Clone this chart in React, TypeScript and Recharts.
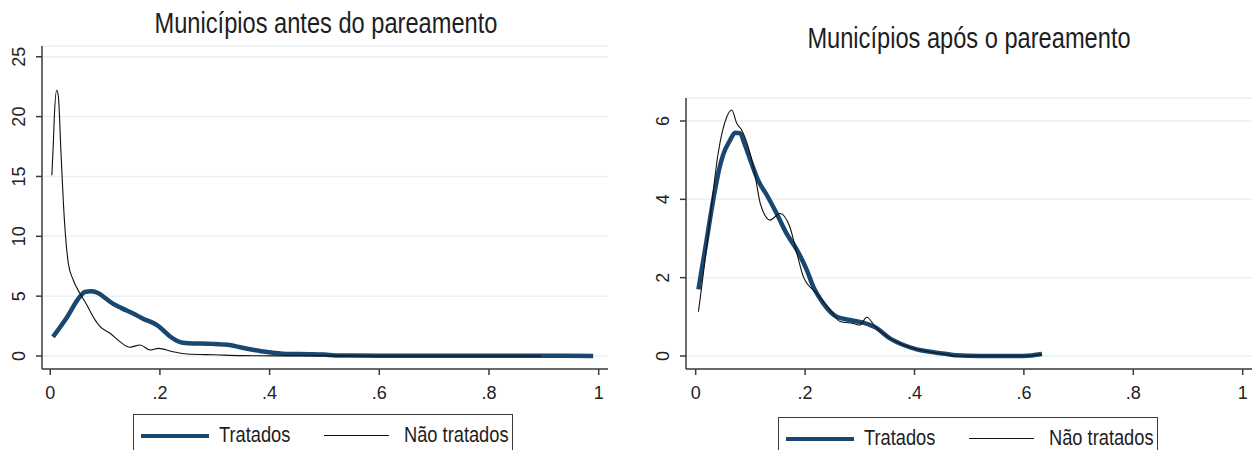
import { LineChart, Line, XAxis, YAxis, CartesianGrid } from 'recharts';

// Kernel densities
const antesTratadosX = [0.005, 0.03, 0.054, 0.063, 0.075, 0.088, 0.1, 0.115, 0.13, 0.151, 0.17, 0.194, 0.205, 0.218, 0.23, 0.242, 0.26, 0.273, 0.3, 0.327, 0.345, 0.364, 0.385, 0.406, 0.437, 0.47, 0.5, 0.52, 0.6, 0.7, 0.8, 0.9, 0.99];
const antesTratadosY = [1.6, 3.2, 4.95, 5.35, 5.4, 5.25, 4.85, 4.35, 4.0, 3.55, 3.1, 2.6, 2.2, 1.65, 1.3, 1.1, 1.05, 1.05, 1.0, 0.92, 0.75, 0.56, 0.4, 0.28, 0.17, 0.15, 0.12, 0.05, 0.03, 0.02, 0.02, 0.02, 0.01];

const antesNaoTratadosX = [0.003, 0.0057, 0.0075, 0.0118, 0.0148, 0.0197, 0.024, 0.028, 0.033, 0.042, 0.054, 0.065, 0.082, 0.091, 0.109, 0.127, 0.145, 0.164, 0.182, 0.197, 0.224, 0.249, 0.3, 0.35, 0.45, 0.6, 0.75, 0.895];
const antesNaoTratadosY = [15.1, 17.8, 20.0, 22.2, 21.7, 16.9, 12.8, 9.97, 7.74, 6.35, 5.24, 4.4, 3.0, 2.45, 1.9, 1.2, 0.73, 0.92, 0.5, 0.64, 0.36, 0.17, 0.1, 0.03, 0.01, 0.005, 0.0, 0.0];

const aposTratadosX = [0.005, 0.02, 0.032, 0.044, 0.05, 0.063, 0.072, 0.081, 0.09, 0.102, 0.114, 0.13, 0.148, 0.166, 0.185, 0.203, 0.215, 0.233, 0.258, 0.282, 0.306, 0.331, 0.355, 0.38, 0.404, 0.428, 0.459, 0.475, 0.52, 0.6, 0.633];
const aposTratadosY = [1.7, 2.96, 3.98, 4.83, 5.13, 5.51, 5.7, 5.69, 5.39, 4.92, 4.49, 4.11, 3.64, 3.13, 2.71, 2.2, 1.77, 1.35, 1.0, 0.92, 0.85, 0.71, 0.45, 0.28, 0.17, 0.11, 0.05, 0.02, 0.0, 0.0, 0.05];

const aposNaoTratadosX = [0.005, 0.011, 0.026, 0.041, 0.057, 0.066, 0.075, 0.084, 0.096, 0.108, 0.118, 0.136, 0.154, 0.172, 0.185, 0.197, 0.221, 0.246, 0.264, 0.288, 0.3, 0.313, 0.328, 0.355, 0.38, 0.404, 0.43, 0.46, 0.475, 0.52, 0.6, 0.633];
const aposNaoTratadosY = [1.13, 1.77, 3.47, 5.17, 6.11, 6.28, 5.94, 5.77, 5.34, 4.66, 3.9, 3.47, 3.64, 3.3, 2.62, 2.02, 1.6, 1.17, 0.88, 0.83, 0.79, 0.99, 0.75, 0.45, 0.28, 0.17, 0.1, 0.04, 0.0, 0.0, 0.0, 0.04];

const xTicks = [0, 0.2, 0.4, 0.6, 0.8, 1];
const antesYTicks = [0, 5, 10, 15, 20, 25];
const aposYTicks = [0, 2, 4, 6];

const TITLES = ['Municípios antes do pareamento', 'Municípios após o pareamento'];
const SERIES = ['Tratados', 'Não tratados'];

const NAVY = '#1a476f';
const GRID = '#e9f1f3';
const AXIS = '#3a3a3a';
const SANS = "'Liberation Sans', Arial, sans-serif";

const toPoints = (xs: number[], ys: number[]) => xs.map((x, i) => ({ x, y: ys[i] }));

const fmtX = (v: number) => (v === 0 ? '0' : v === 1 ? '1' : String(v).replace(/^0/, ''));

function RotatedTick(props: any) {
  const { x, y, payload } = props;
  return (
    <text
      x={x}
      y={y}
      transform={`rotate(-90 ${x} ${y})`}
      textAnchor="middle"
      dominantBaseline="central"
      fontSize={18}
      fontFamily={SANS}
      fill="#222"
    >
      {payload.value}
    </text>
  );
}

// the original text is condensed (Arial Narrow look), so squeeze it horizontally
function Legend({ left, top }: { left: number; top: number }) {
  const txt = {
    position: 'absolute' as const,
    top: 9,
    fontSize: 22,
    lineHeight: '22px',
    fontFamily: SANS,
    color: '#1e1e1e',
    whiteSpace: 'nowrap' as const,
    transform: 'scaleX(0.83)',
    transformOrigin: 'left center',
  };
  return (
    <div style={{ position: 'absolute', left, top, width: 380, height: 45, border: '1px solid #3c3c3c', boxSizing: 'border-box', background: '#fff' }}>
      <div style={{ position: 'absolute', left: 7, top: 18.5, width: 68, height: 4.5, background: NAVY }} />
      <div style={{ ...txt, left: 85 }}>{SERIES[0]}</div>
      <div style={{ position: 'absolute', left: 190, top: 20, width: 65, height: 1.2, background: '#111' }} />
      <div style={{ ...txt, left: 270 }}>{SERIES[1]}</div>
    </div>
  );
}

function Panel(props: {
  left: number;
  top: number;
  yWidth: number;
  right: number;
  xDomain: [number, number];
  yDomain: [number, number];
  yTicks: number[];
  tratados: { x: number; y: number }[];
  naoTratados: { x: number; y: number }[];
}) {
  return (
    <div style={{ position: 'absolute', left: props.left, top: 0 }}>
      <LineChart width={626} height={450} margin={{ top: props.top, right: props.right, bottom: 51, left: 0 }}>
        <CartesianGrid vertical={false} stroke={GRID} strokeWidth={1.5} />
        <XAxis
          dataKey="x"
          type="number"
          domain={props.xDomain}
          allowDataOverflow
          ticks={xTicks}
          tickFormatter={fmtX}
          height={30}
          tickSize={6}
          tickMargin={11}
          stroke={AXIS}
          strokeWidth={1.5}
          tick={{ fontSize: 18, fontFamily: SANS, fill: '#222' }}
        />
        <YAxis
          type="number"
          domain={props.yDomain}
          allowDataOverflow
          ticks={props.yTicks}
          width={props.yWidth}
          tickSize={6}
          tickMargin={17}
          stroke={AXIS}
          strokeWidth={1.5}
          tick={<RotatedTick />}
        />
        <Line
          data={props.tratados}
          dataKey="y"
          type="monotone"
          stroke={NAVY}
          strokeWidth={4.5}
          dot={false}
          isAnimationActive={false}
        />
        <Line
          data={props.naoTratados}
          dataKey="y"
          type="monotone"
          stroke="#111"
          strokeWidth={1.1}
          dot={false}
          isAnimationActive={false}
        />
      </LineChart>
    </div>
  );
}

export default function App() {
  const title = {
    position: 'absolute' as const,
    fontSize: 29,
    lineHeight: '29px',
    fontFamily: SANS,
    color: '#1e1e1e',
    whiteSpace: 'nowrap' as const,
    transform: 'translateX(-50%) scaleX(0.815)',
  };
  return (
    <div style={{ position: 'absolute', left: 0, top: 0, width: 1252, height: 450, background: '#fff', overflow: 'hidden' }}>
      <Panel
        left={0}
        top={46}
        yWidth={42}
        right={18}
        xDomain={[-0.015, 1.017]}
        yDomain={[-1.086, 25.9]}
        yTicks={antesYTicks}
        tratados={toPoints(antesTratadosX, antesTratadosY)}
        naoTratados={toPoints(antesNaoTratadosX, antesNaoTratadosY)}
      />
      <Panel
        left={626}
        top={98}
        yWidth={60}
        right={0}
        xDomain={[-0.0177, 1.017]}
        yDomain={[-0.332, 6.587]}
        yTicks={aposYTicks}
        tratados={toPoints(aposTratadosX, aposTratadosY)}
        naoTratados={toPoints(aposNaoTratadosX, aposNaoTratadosY)}
      />
      <div style={{ ...title, left: 326, top: 8.5 }}>{TITLES[0]}</div>
      <div style={{ ...title, left: 969, top: 23.5 }}>{TITLES[1]}</div>
      <Legend left={133} top={414} />
      <Legend left={778} top={417} />
    </div>
  );
}
